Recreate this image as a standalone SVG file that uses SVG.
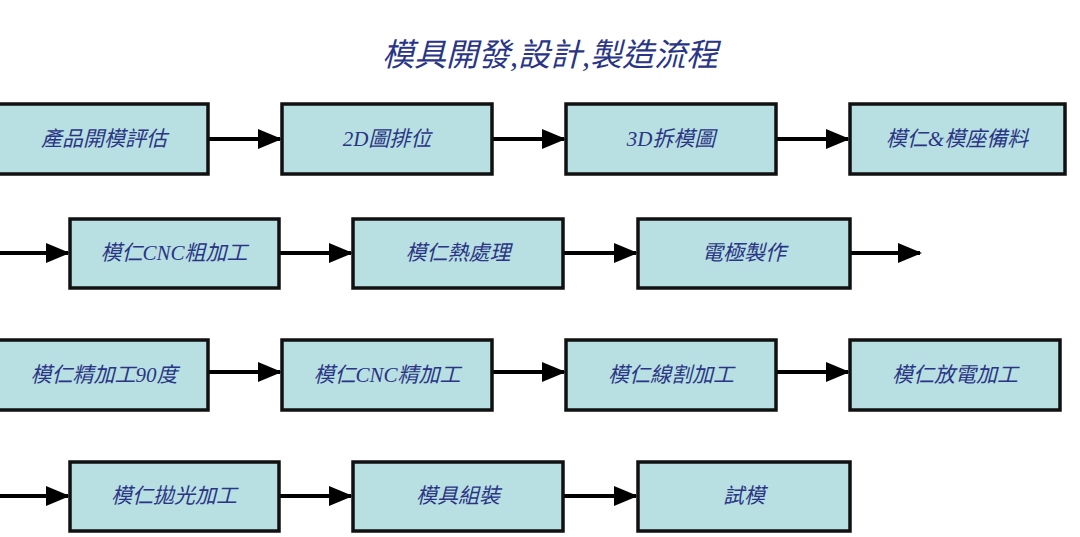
<svg xmlns="http://www.w3.org/2000/svg" width="1080" height="537" viewBox="0 0 1080 537">
<style>
.b{fill:#b8dfe2;stroke:#111;stroke-width:3.5}
.t{font-family:"Liberation Serif","Noto Sans CJK TC",serif;font-style:italic;font-size:21px;fill:#2a3585;text-anchor:middle;dominant-baseline:central}
.c{stroke:#000;stroke-width:4;fill:none;marker-end:url(#a)}
</style>
<defs><marker id="a" markerWidth="6" markerHeight="5" refX="5.5" refY="2.5" orient="auto" markerUnits="strokeWidth"><path d="M0,0L6,2.5L0,5z" fill="#000"/></marker></defs>
<rect width="1080" height="537" fill="#fff"/>
<text x="550" y="55" class="t" style="font-size:32px">模具開發,設計,製造流程</text>
<g id="connectors">
<path class="c" d="M209,139H280"/><path class="c" d="M493,139H564"/><path class="c" d="M777,139H848"/>
<path class="c" d="M0,253H68"/><path class="c" d="M280,253H351"/><path class="c" d="M564,253H636"/><path class="c" d="M851,253H920"/>
<path class="c" d="M209,372H280"/><path class="c" d="M493,372H564"/><path class="c" d="M777,372H848"/>
<path class="c" d="M0,496H68"/><path class="c" d="M280,496H351"/><path class="c" d="M564,496H636"/>
</g>
<g id="n1"><rect class="b" x="-5" y="104" width="213" height="70"/><text class="t" x="104" y="139">產品開模評估</text></g>
<g id="n2"><rect class="b" x="282" y="104" width="210" height="70"/><text class="t" x="387" y="139">2D圖排位</text></g>
<g id="n3"><rect class="b" x="566" y="104" width="210" height="70"/><text class="t" x="671" y="139">3D拆模圖</text></g>
<g id="n4"><rect class="b" x="850" y="104" width="215" height="70"/><text class="t" x="957" y="139">模仁&amp;模座備料</text></g>
<g id="n5"><rect class="b" x="70" y="219" width="209" height="69"/><text class="t" x="174" y="253">模仁CNC粗加工</text></g>
<g id="n6"><rect class="b" x="353" y="219" width="210" height="69"/><text class="t" x="458" y="253">模仁熱處理</text></g>
<g id="n7"><rect class="b" x="638" y="219" width="212" height="69"/><text class="t" x="744" y="253">電極製作</text></g>
<g id="n8"><rect class="b" x="-5" y="340" width="213" height="70"/><text class="t" x="104" y="375">模仁精加工90度</text></g>
<g id="n9"><rect class="b" x="282" y="340" width="210" height="70"/><text class="t" x="387" y="375">模仁CNC精加工</text></g>
<g id="n10"><rect class="b" x="566" y="340" width="210" height="70"/><text class="t" x="671" y="375">模仁線割加工</text></g>
<g id="n11"><rect class="b" x="850" y="340" width="210" height="70"/><text class="t" x="955" y="375">模仁放電加工</text></g>
<g id="n12"><rect class="b" x="70" y="462" width="209" height="69"/><text class="t" x="174" y="496">模仁拋光加工</text></g>
<g id="n13"><rect class="b" x="353" y="462" width="210" height="69"/><text class="t" x="458" y="496">模具組裝</text></g>
<g id="n14"><rect class="b" x="638" y="462" width="212" height="69"/><text class="t" x="744" y="496">試模</text></g>
</svg>
